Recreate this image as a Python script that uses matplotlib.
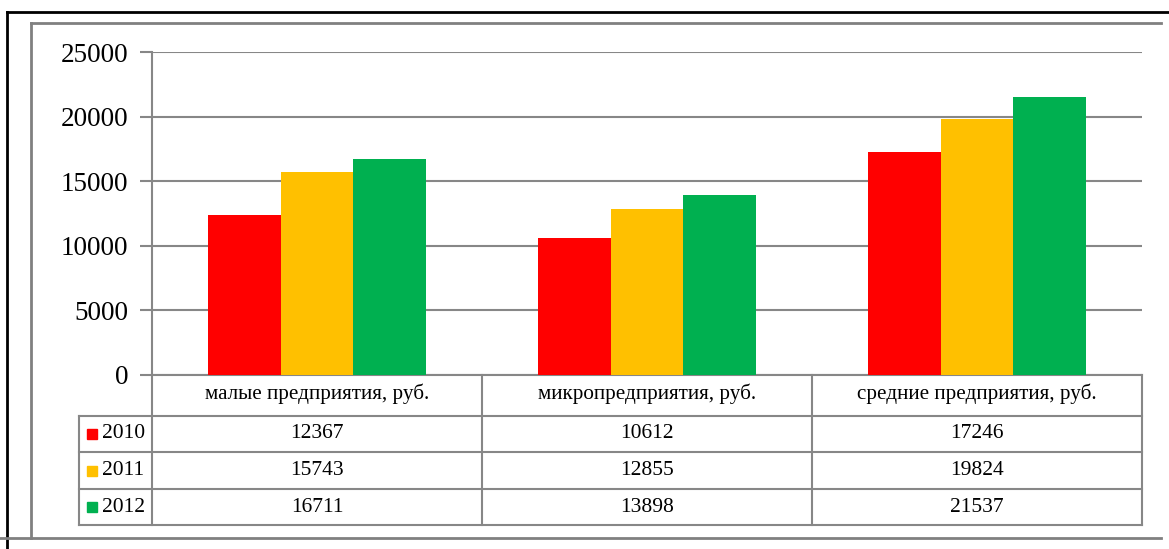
import matplotlib.pyplot as plt
from matplotlib.lines import Line2D
from matplotlib.patches import Rectangle
from matplotlib.transforms import blended_transform_factory

plt.rcParams['font.family'] = ['Liberation Serif', 'DejaVu Serif']

categories = ['малые предприятия, руб.', 'микропредприятия, руб.', 'средние предприятия, руб.']
years = ['2010', '2011', '2012']
v2010 = [12367, 10612, 17246]
v2011 = [15743, 12855, 19824]
v2012 = [16711, 13898, 21537]
series = [v2010, v2011, v2012]
colors = ['#FF0000', '#FFC000', '#00B050']
yticks = [0, 5000, 10000, 15000, 20000, 25000]

W, H = 1169, 549
fig = plt.figure(figsize=(W / 100, H / 100), dpi=100)

# plot area in pixels
left, right, top, bottom = 152, 1142, 52, 375
ax = fig.add_axes([left / W, 1 - bottom / H, (right - left) / W, (bottom - top) / H])

grid = '#878787'
bw = 0.22
for i, vals in enumerate(series):
    xs = [k + (i - 1) * bw for k in range(len(categories))]
    ax.bar(xs, vals, width=bw, color=colors[i], zorder=3)

ax.set_xlim(-0.5, len(categories) - 0.5)
ax.set_ylim(0, 25000)
ax.set_yticks(yticks)
ax.set_yticklabels([str(t) for t in yticks], fontsize=19.5)
ax.yaxis.grid(True, color=grid, lw=1.5, zorder=0)
ax.set_xticks([])
ax.tick_params(axis='y', length=9, width=1.5, color=grid, pad=8)
for s in ['top', 'right']:
    ax.spines[s].set_visible(False)
for s in ['left', 'bottom']:
    ax.spines[s].set_color(grid)
    ax.spines[s].set_linewidth(1.5)

# data table under the axis
tr = blended_transform_factory(ax.transData, ax.transAxes)
ph = bottom - top
ux = (right - left) / len(categories)
def fy(ypx):
    return -(ypx - bottom) / ph

xl = -0.5 - (left - 79) / ux
x0, x1 = -0.5, len(categories) - 0.5
row_y = [fy(416), fy(452), fy(489), fy(525)]
kw = dict(color=grid, lw=1.5, transform=tr, clip_on=False)

for k in range(len(categories) + 1):
    ax.add_line(Line2D([x0 + k, x0 + k], [0, row_y[-1]], **kw))
for yy in row_y:
    ax.add_line(Line2D([xl, x1], [yy, yy], **kw))
ax.add_line(Line2D([xl, xl], [row_y[0], row_y[-1]], **kw))

for k, c in enumerate(categories):
    ax.text(k, (0 + row_y[0]) / 2 + 0.005, c, transform=tr, ha='center', va='center', fontsize=15.2)

for i, vals in enumerate(series):
    yc = (row_y[i] + row_y[i + 1]) / 2
    for k, v in enumerate(vals):
        ax.text(k, yc, str(v), transform=tr, ha='center', va='center', fontsize=15.5)
    # legend key
    ax.text(xl + 23 / ux, yc, years[i], transform=tr, ha='left', va='center', fontsize=15.5)
    sq = 10 / ph
    ax.add_patch(Rectangle((xl + 8 / ux, yc - sq / 2), 10 / ux, sq, color=colors[i],
                           transform=tr, clip_on=False))

# frames
fig.add_artist(Line2D([7 / W, 1], [1 - 12 / H] * 2, color='black', lw=2))
fig.add_artist(Line2D([7 / W] * 2, [1 - 12 / H, 0], color='black', lw=2))
gk = dict(color='#808080', lw=2)
fig.add_artist(Line2D([31 / W, 1161 / W], [1 - 23 / H] * 2, **gk))
fig.add_artist(Line2D([31 / W] * 2, [1 - 23 / H, 1 - 538 / H], **gk))
fig.add_artist(Line2D([0, 1161 / W], [1 - 538 / H] * 2, **gk))

fig.savefig('out.png', dpi=100)
